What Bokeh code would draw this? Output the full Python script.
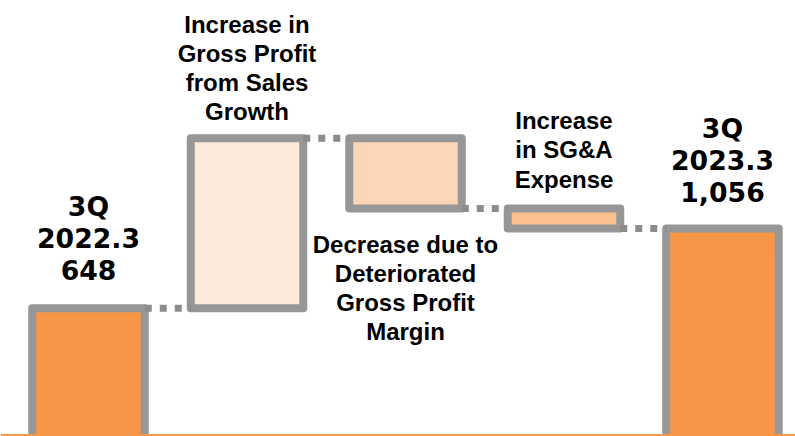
from bokeh.plotting import figure
from bokeh.models import Range1d, Span, ColumnDataSource
from bokeh.core.properties import value
from bokeh.embed import file_html
from bokeh.resources import INLINE

# ---- data ----
categories = ["3Q 2022.3", "Gross Profit from Sales Growth",
              "Deteriorated Gross Profit Margin", "SG&A Expense", "3Q 2023.3"]
start_value = 648
changes = [870, -360, -102]
end_value = 1056
start_label = "3Q\n2022.3"
end_label = "3Q\n2023.3"
change_labels = ["Increase in\nGross Profit\nfrom Sales\nGrowth",
                 "Decrease due to\nDeteriorated\nGross Profit\nMargin",
                 "Increase\nin SG&A\nExpense"]

# ---- styles ----
fills = ["#F79646", "#FDE9D9", "#FBD5B5", "#FAC090", "#F79646"]
border = "#979797"
conn_color = "#8C8C8C"
bar_w = 0.71

y0, y1 = -7.7, 2222.5
p = figure(width=795, height=436, output_backend="svg", toolbar_location=None,
           x_range=Range1d(-0.5552, 4.4606), y_range=Range1d(y0, y1),
           min_border=0, outline_line_color=None)
p.axis.visible = False
p.grid.visible = False
p.background_fill_color = "white"
p.border_fill_color = "white"

xs = list(range(len(categories)))
bottoms, tops = [], []
bottoms.append(y0 - 40)
tops.append(start_value)
cum = start_value
for c in changes:
    new = cum + c
    bottoms.append(min(cum, new))
    tops.append(max(cum, new))
    cum = new
bottoms.append(y0 - 40)
tops.append(end_value)

src = ColumnDataSource(dict(left=[x - bar_w / 2 for x in xs],
                            right=[x + bar_w / 2 for x in xs],
                            bottom=bottoms, top=tops, fill=fills))
p.quad(left="left", right="right", bottom="bottom", top="top", source=src,
       fill_color="fill", line_color=border, line_width=8, line_join="round")

# connectors
levels = [start_value]
cum = start_value
for c in changes:
    cum += c
    levels.append(cum)
for i, lv in enumerate(levels):
    p.line([xs[i] + bar_w / 2, xs[i + 1] - bar_w / 2], [lv, lv],
           line_color=conn_color, line_width=7, line_dash="7 8")

# baseline
p.add_layout(Span(location=0, dimension="width", line_color="#F79646", line_width=2))

# labels
texts = [f"{start_label}\n{start_value:,}"] + change_labels + [f"{end_label}\n{end_value:,}"]
big = [True, False, False, False, True]
above = [True, True, False, True, True]
offsets = [-22, -13, 22, -16, -21]
for i, t in enumerate(texts):
    if above[i]:
        yy = tops[i]
        base = "bottom"
    else:
        yy = bottoms[i]
        base = "top"
    p.text(x=[xs[i]], y=[yy], text=[t], text_align="center", text_baseline=base,
           y_offset=offsets[i],
           text_font=value("DejaVu Sans" if big[i] else "Liberation Sans"),
           text_font_style="bold",
           text_font_size="26.7px" if big[i] else "24px",
           text_line_height=1.03 if big[i] else 1.08,
           text_color="black")

open("out.html", "w").write(file_html(p, INLINE))
